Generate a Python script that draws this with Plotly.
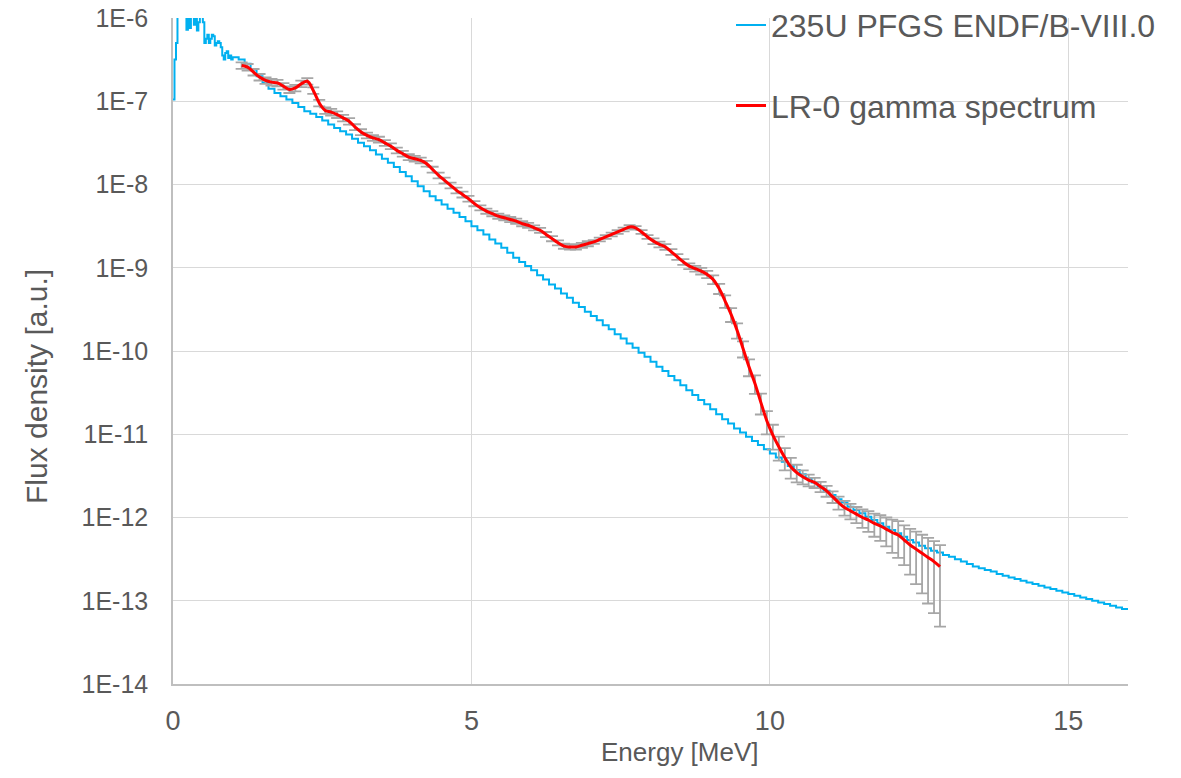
import plotly.graph_objects as go

# ---------------- data ----------------
# 235U PFGS ENDF/B-VIII.0: log10 of flux density
# fine part: bins starting at 0.000, 0.025, ... 0.975 MeV
pfgs_fine_step = 0.025
pfgs_fine_log10 = [-6.98, -6.50, -6.30, -5.90, -5.85, -5.90, -5.95, -5.85, -5.90, -6.14,
                   -5.95, -6.12, -5.90, -5.95, -6.08, -5.90, -6.15, -6.05, -5.92, -5.95,
                   -6.05, -6.30, -6.25, -6.20, -6.30, -6.25, -6.20, -6.22, -6.33, -6.30,
                   -6.28, -6.30, -6.35, -6.45, -6.50, -6.42, -6.40, -6.48, -6.45, -6.50]
# coarse part: bins starting at 1.0, 1.1, ... 15.9 MeV, plus the end value at 16.0 MeV
pfgs_start = 1.0
pfgs_step = 0.1
pfgs_log10 = [
    -6.47, -6.50, -6.55, -6.62, -6.70, -6.78, -6.85, -6.90, -6.94, -6.98,
    -7.02, -7.07, -7.12, -7.15, -7.19, -7.23, -7.28, -7.32, -7.36, -7.40,
    -7.45, -7.50, -7.54, -7.59, -7.64, -7.69, -7.74, -7.79, -7.85, -7.90,
    -7.96, -8.02, -8.08, -8.14, -8.19, -8.24, -8.29, -8.34, -8.39, -8.44,
    -8.50, -8.55, -8.60, -8.66, -8.71, -8.76, -8.82, -8.88, -8.93, -8.98,
    -9.03, -9.09, -9.14, -9.20, -9.25, -9.31, -9.36, -9.42, -9.47, -9.53,
    -9.58, -9.63, -9.69, -9.74, -9.80, -9.85, -9.91, -9.96, -10.02, -10.07,
    -10.13, -10.19, -10.24, -10.30, -10.35, -10.41, -10.47, -10.53, -10.59, -10.64,
    -10.70, -10.76, -10.82, -10.87, -10.93, -10.98, -11.03, -11.08, -11.13, -11.18,
    -11.23, -11.28, -11.33, -11.38, -11.43, -11.48, -11.53, -11.58, -11.63, -11.68,
    -11.73, -11.78, -11.82, -11.87, -11.91, -11.95, -11.99, -12.03, -12.07, -12.11,
    -12.15, -12.19, -12.23, -12.27, -12.30, -12.34, -12.37, -12.40, -12.42, -12.45,
    -12.47, -12.50, -12.53, -12.56, -12.59, -12.61, -12.63, -12.65, -12.68, -12.70,
    -12.72, -12.74, -12.76, -12.78, -12.80, -12.82, -12.84, -12.86, -12.88, -12.90,
    -12.92, -12.94, -12.96, -12.98, -13.00, -13.02, -13.04, -13.06, -13.08, -13.10,
    -13.11]

# LR-0 gamma spectrum: points at 1.15, 1.25, ... 12.85 MeV
lr0_start = 1.15
lr0_step = 0.1
lr0_log10 = [
    -6.57, -6.59, -6.65, -6.71, -6.75, -6.77, -6.78, -6.82, -6.86, -6.84,
    -6.79, -6.76, -6.87, -7.02, -7.11, -7.13, -7.16, -7.20, -7.24,
    -7.31, -7.37, -7.41, -7.44, -7.46, -7.50, -7.54, -7.59, -7.63, -7.67,
    -7.69, -7.71, -7.75, -7.82, -7.89, -7.95, -8.01, -8.07, -8.12, -8.17,
    -8.23, -8.28, -8.32, -8.35, -8.38, -8.40, -8.42, -8.44, -8.47, -8.49,
    -8.52, -8.55, -8.60, -8.65, -8.70, -8.74, -8.75, -8.75, -8.73, -8.71,
    -8.69, -8.66, -8.63, -8.60, -8.57, -8.54, -8.51, -8.52, -8.57, -8.63,
    -8.68, -8.72, -8.75, -8.81, -8.87, -8.93, -8.98, -9.01,
    -9.04, -9.08, -9.14, -9.25, -9.40, -9.56, -9.75, -9.97, -10.19, -10.39,
    -10.62, -10.84, -11.01, -11.15, -11.28, -11.39, -11.46, -11.51, -11.55, -11.58,
    -11.63, -11.68, -11.75, -11.82, -11.88, -11.92, -11.96, -12.00, -12.03, -12.07,
    -12.10, -12.14, -12.18, -12.21, -12.27, -12.33, -12.38, -12.43, -12.48, -12.53,
    -12.59]
# relative (linear, symmetric) uncertainty of each LR-0 point
lr0_rel_err = [
    0.09, 0.09, 0.09, 0.09, 0.09, 0.09, 0.09, 0.09, 0.09, 0.09,
    0.09, 0.09, 0.09, 0.09, 0.09, 0.09, 0.09, 0.09, 0.09,
    0.08, 0.08, 0.08, 0.08, 0.08, 0.08, 0.08, 0.08, 0.08, 0.08,
    0.08, 0.08, 0.08, 0.08, 0.08, 0.08, 0.08, 0.08, 0.08, 0.08,
    0.07, 0.07, 0.07, 0.07, 0.07, 0.07, 0.07, 0.07, 0.07, 0.07,
    0.07, 0.07, 0.07, 0.07, 0.07, 0.07, 0.07, 0.07, 0.07, 0.07,
    0.05, 0.05, 0.05, 0.05, 0.05, 0.05, 0.05, 0.05, 0.05, 0.05,
    0.08, 0.08, 0.08, 0.08, 0.08, 0.08, 0.08, 0.08,
    0.09, 0.10, 0.12, 0.14, 0.17, 0.19, 0.21, 0.22, 0.23, 0.25,
    0.28, 0.31, 0.33, 0.32, 0.30, 0.28, 0.24, 0.19, 0.16, 0.14,
    0.14, 0.15, 0.16, 0.18, 0.20, 0.21, 0.22, 0.25, 0.28, 0.31,
    0.34, 0.38, 0.43, 0.47, 0.50, 0.56, 0.62, 0.67, 0.72, 0.76,
    0.81]

x_ticks = [0, 5, 10, 15]
y_tick_exps = [-14, -13, -12, -11, -10, -9, -8, -7, -6]
y_tick_labels = ["1E-14", "1E-13", "1E-12", "1E-11", "1E-10", "1E-9", "1E-8", "1E-7", "1E-6"]

series_names = ["235U PFGS ENDF/B-VIII.0", "LR-0 gamma spectrum"]

# ---------------- build traces ----------------
pfgs_x = [round(i * pfgs_fine_step, 3) for i in range(len(pfgs_fine_log10))] + \
         [round(pfgs_start + i * pfgs_step, 2) for i in range(len(pfgs_log10))]
pfgs_y = [10 ** v for v in pfgs_fine_log10 + pfgs_log10]

lr0_x = [round(lr0_start + i * lr0_step, 2) for i in range(len(lr0_log10))]
lr0_y = [10 ** v for v in lr0_log10]
lr0_err = [y * r for y, r in zip(lr0_y, lr0_rel_err)]

TEXT = "#595959"
FONT = "Liberation Sans, Arial, sans-serif"

fig = go.Figure()
fig.add_trace(go.Scatter(
    x=pfgs_x, y=pfgs_y, mode="lines", line=dict(color="#00b0f0", width=2, shape="hv"),
    name=series_names[0], legendgroup="a", legendrank=1))
fig.add_trace(go.Scatter(
    x=lr0_x, y=lr0_y, mode="markers", marker=dict(size=2, color="rgba(0,0,0,0)"),
    error_y=dict(type="data", array=lr0_err, visible=True, color="#a6a6a6",
                 thickness=1.8, width=6),
    showlegend=False, hoverinfo="skip"))
fig.add_trace(go.Scatter(
    x=lr0_x, y=lr0_y, mode="lines", line=dict(color="#ff0000", width=3, shape="spline"),
    name=series_names[1], legendgroup="b", legendrank=2))

fig.update_layout(
    width=1181, height=778,
    margin=dict(l=173, r=53, t=18, b=94, autoexpand=False),
    paper_bgcolor="white", plot_bgcolor="white",
    font=dict(family=FONT, color=TEXT, size=25),
    showlegend=True,
    legend=dict(x=0.5843, y=1.0305, xanchor="left", yanchor="top",
                bgcolor="rgba(0,0,0,0)", borderwidth=0,
                font=dict(size=32, color=TEXT, family=FONT),
                traceorder="grouped", tracegroupgap=36),
    xaxis=dict(range=[0, 16], tickvals=x_ticks, ticktext=[str(t) for t in x_ticks],
               showgrid=True, gridcolor="#d9d9d9", gridwidth=1,
               showline=True, linecolor="#bfbfbf", linewidth=1.5,
               zeroline=False, ticks="", ticklabelstandoff=12,
               tickfont=dict(size=27, color=TEXT, family=FONT)),
    yaxis=dict(type="log", range=[-14, -6],
               tickvals=[10 ** e for e in y_tick_exps], ticktext=y_tick_labels,
               showgrid=True, gridcolor="#d9d9d9", gridwidth=1,
               showline=True, linecolor="#bfbfbf", linewidth=1.5,
               zeroline=False, ticks="", ticklabelstandoff=18,
               tickfont=dict(size=25, color=TEXT, family=FONT)),
    shapes=[dict(type="rect", xref="paper", yref="paper", x0=0.552, x1=1.06,
                 y0=(684 - 148) / 666, y1=1.03, fillcolor="white",
                 line=dict(width=0), layer="between")],
    annotations=[
        dict(text="Energy [MeV]", xref="paper", yref="paper", x=0.531, y=-0.102,
             showarrow=False, font=dict(size=26, color=TEXT, family=FONT),
             xanchor="center", yanchor="middle"),
        dict(text="Flux density [a.u.]", xref="paper", yref="paper", x=-0.1424, y=0.446,
             showarrow=False, textangle=-90, font=dict(size=30, color=TEXT, family=FONT),
             xanchor="center", yanchor="middle"),
    ],
)

fig.write_html("out.html")
